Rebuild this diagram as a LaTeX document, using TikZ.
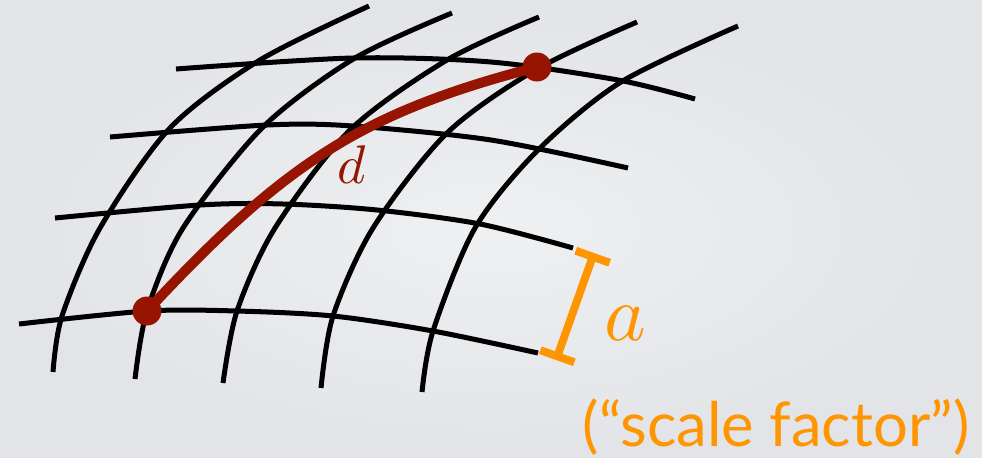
\documentclass[tikz,border=0pt]{standalone}
\usepackage{fontspec}
\usepackage{unicode-math}
\newfontfamily\labelfont{Lato}
\usetikzlibrary{arrows.meta,positioning}
\definecolor{bglight}{RGB}{239,240,242}
\definecolor{bgdark}{RGB}{226,228,231}
\definecolor{distred}{RGB}{150,20,0}
\definecolor{scaleorange}{RGB}{255,149,0}

\begin{document}
\begin{tikzpicture}[
  x=0.02cm, y=-0.02cm,
  gridline/.style={line width=2.85pt},
  dpath/.style={distred, line width=5.7pt},
  dot/.style={circle, fill=distred, inner sep=0pt, minimum size=0.58cm},
  sfmark/.style={scaleorange, line width=4.5pt, {Bar[width=0.72cm]}-{Bar[width=0.72cm]}},
  >=Stealth
]
\useasboundingbox (0,0) rectangle (982,457);
\fill[inner color=bglight, outer color=bgdark] (0,0) rectangle (982,457);

% comoving grid: lines running up
\draw[gridline] plot[smooth] coordinates {(53,372) (62,316) (100,228) (170,128) (260,60) (369,6)};
\draw[gridline] plot[smooth] coordinates {(135,379) (147,311) (183,228) (263,127) (355,58) (452,13)};
\draw[gridline] plot[smooth] coordinates {(223,383) (237,311) (275,228) (350,130) (447,60) (539,17)};
\draw[gridline] plot[smooth] coordinates {(321,388) (333,316) (373,228) (447,133) (537,69) (637,22)};
\draw[gridline] plot[smooth] coordinates {(422,392) (433,331) (475,228) (538,150) (621,82) (738,26)};
% lines running across
\draw[gridline] plot[smooth] coordinates {(176,69) (353,58) (491,62) (618,80) (695,99)};
\draw[gridline] plot[smooth] coordinates {(110,137) (267,125) (353,126) (491,140) (628,168)};
\draw[gridline] plot[smooth] coordinates {(55,218) (200,205) (283,204) (377,210) (480,224) (573,248)};
\draw[gridline] plot[smooth] coordinates {(19,324) (147,311) (237,311) (333,316) (433,331) (538,353)};

% distance between two points
\node[dot] (dotA) at (147,311) {};
\node[dot] (dotB) at (537,67) {};
\draw[dpath] (dotA.center) .. controls (287,160) and (365,112) .. (dotB.center);
\node[distred, font=\fontsize{31}{32}\selectfont, anchor=base] (dlab) at (352,183) {$d$};

% scale factor marker
\coordinate (atop) at (594,253);
\coordinate (abot) at (556,360);
\draw[sfmark] (abot) -- (atop);
\node[scaleorange, font=\fontsize{45}{48}\selectfont, anchor=base] (alab) at (625,340) {$a$};
\node[scaleorange, font=\labelfont\fontsize{35}{40}\selectfont, anchor=base] (sflab) at (776,446) {(“scale factor”)};
\end{tikzpicture}
\end{document}
